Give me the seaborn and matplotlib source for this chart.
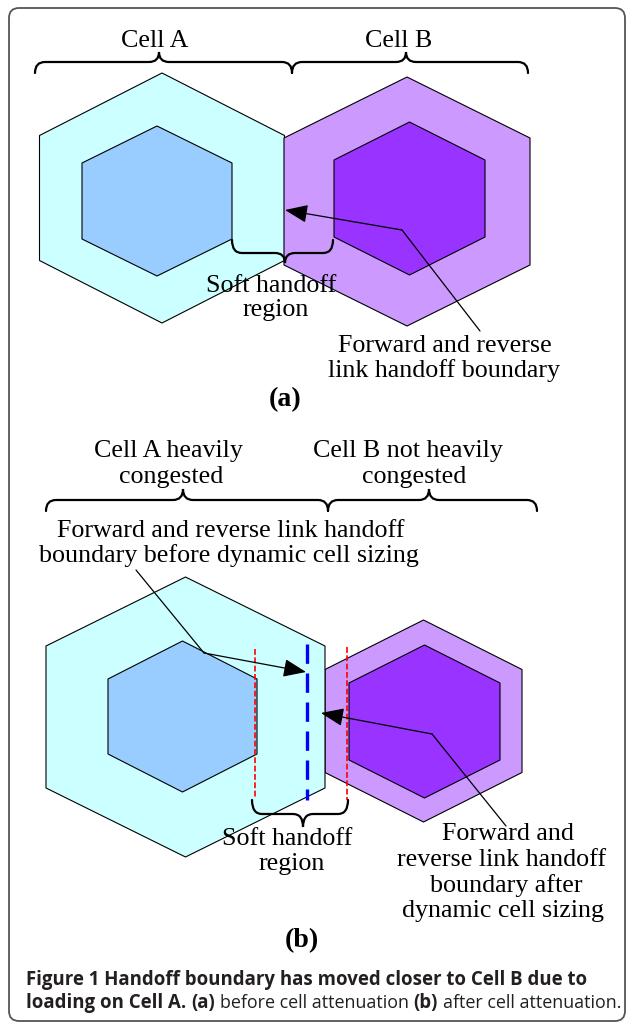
import matplotlib
matplotlib.use("Agg")
import matplotlib.pyplot as plt
import seaborn as sns
from matplotlib.path import Path
from matplotlib.patches import PathPatch, Polygon, FancyBboxPatch, FancyArrowPatch

# hexagons: (cx, cy, half width, half height, side offset, colour)
hex_names = ["outer_a_a", "inner_a_a", "outer_b_a", "inner_b_a",
             "outer_b_b", "inner_b_b", "outer_a_b", "inner_a_b"]
hex_cx = [162, 157, 407, 409.5, 423.5, 424.5, 185.5, 182.5]
hex_cy = [198, 201, 201.5, 198.5, 721, 721.5, 717, 716.5]
hex_hw = [122.5, 75, 123, 75.5, 98.5, 75.5, 139.5, 74.5]
hex_r = [125, 75, 124.5, 76.5, 101, 76.5, 140, 75.5]
hex_s = [62.5, 38, 63.5, 38.5, 51.5, 38.5, 71, 37.5]
hex_colors = ["#ccffff", "#99ccff", "#cc99ff", "#9933ff",
              "#cc99ff", "#9933ff", "#ccffff", "#99ccff"]

# braces: x start, x end, tip x, line y, end offset, tip offset
brace_x0 = [35, 292, 232, 46, 328, 252]
brace_x1 = [292, 528, 333, 328, 537, 348]
brace_xt = [159, 406, 285, 183, 429, 303]
brace_y = [62, 62, 253, 500, 500, 814]
brace_de = [11, 11, -13, 11, 11, -14]
brace_dt = [-10, -10, 10, -11, -11, 13]

# diagram labels: text, x centre, baseline y
labels = [
    ("Cell A", 155, 47), ("Cell B", 399, 47),
    ("Soft handoff", 271, 292), ("region", 276, 316),
    ("Forward and reverse", 445, 352), ("link handoff boundary", 444, 377),
    ("Cell A heavily", 168, 457), ("congested", 171, 483),
    ("Cell B not heavily", 408, 457), ("congested", 414, 483),
    ("Forward and reverse link handoff", 231, 537),
    ("boundary before dynamic cell sizing", 229, 562),
    ("Soft handoff", 287, 845), ("region", 292, 870),
    ("Forward and", 508, 840), ("reverse link handoff", 502, 866),
    ("boundary after", 506, 892), ("dynamic cell sizing", 503, 917),
]
panel_labels = [("(a)", 285, 406), ("(b)", 302, 947)]

# pointer lines (polyline ending in arrow head)
pointers = [
    [(480, 331), (402, 230), (285, 210)],
    [(136, 570), (204, 653), (306, 672)],
    [(506, 826), (432, 734), (321, 713)],
]

# handoff boundary lines in (b): x, y top, y bottom
red_x = [255, 347]
red_top = [649, 647]
red_bot = [797, 800]
blue_x = 307
blue_top, blue_bot = 644, 800

caption1 = [("Figure 1 Handoff boundary has moved closer to Cell B due to", "bold")]
caption2 = [("loading on Cell A.", "bold"), ("(a)", "bold"),
            ("before cell attenuation", "normal"), ("(b)", "bold"),
            ("after cell attenuation.", "normal")]

W, H = 627, 1023
PX = 72 / 100  # px -> pt

sns.set_theme(style="white")
plt.rcParams["font.family"] = ["Liberation Serif", "DejaVu Serif"]

fig = plt.figure(figsize=(W / 100, H / 100), dpi=100)
ax = fig.add_axes([0, 0, 1, 1])
ax.set_xlim(0, W)
ax.set_ylim(H, 0)
ax.axis("off")

# frame
ax.add_patch(FancyBboxPatch((9, 8), 616, 1013,
                            boxstyle="round,pad=0,rounding_size=10",
                            fc="white", ec="#555555", lw=1.3, zorder=0))


def hexagon(cx, cy, hw, r, s):
    return [(cx, cy - r), (cx + hw, cy - s), (cx + hw, cy + s),
            (cx, cy + r), (cx - hw, cy + s), (cx - hw, cy - s)]


for i in range(len(hex_names)):
    pts = hexagon(hex_cx[i], hex_cy[i], hex_hw[i], hex_r[i], hex_s[i])
    ax.add_patch(Polygon(pts, closed=True, fc=hex_colors[i], ec="black",
                         lw=0.8, zorder=1 + i * 0.01))


def brace(x0, x1, xt, y, de, dt, r=10):
    verts = [(x0, y + de), (x0, y), (x0 + r, y),
             (xt - r, y), (xt, y), (xt, y + dt),
             (xt, y), (xt + r, y),
             (x1 - r, y), (x1, y), (x1, y + de)]
    codes = [Path.MOVETO, Path.CURVE3, Path.CURVE3,
             Path.LINETO, Path.CURVE3, Path.CURVE3,
             Path.CURVE3, Path.CURVE3,
             Path.LINETO, Path.CURVE3, Path.CURVE3]
    return Path(verts, codes)


for i in range(len(brace_x0)):
    p = brace(brace_x0[i], brace_x1[i], brace_xt[i], brace_y[i],
              brace_de[i], brace_dt[i])
    ax.add_patch(PathPatch(p, fc="none", ec="black", lw=1.6, zorder=5,
                           capstyle="round"))

# boundary lines
for x, t, b in zip(red_x, red_top, red_bot):
    ax.plot([x, x], [t, b], color="#ff0000", lw=1.2, dashes=(3.5, 1.5), zorder=4)
ax.plot([blue_x, blue_x], [blue_top, blue_bot], color="#0000ff", lw=2.4,
        dashes=(5.8, 2.9), zorder=4)

# pointers
for pl in pointers:
    xs = [p[0] for p in pl[:-1]]
    ys = [p[1] for p in pl[:-1]]
    ax.plot(xs, ys, color="black", lw=0.9, zorder=6)
    ax.add_patch(FancyArrowPatch(pl[-2], pl[-1],
                                 arrowstyle="-|>,head_length=0.7,head_width=0.28",
                                 mutation_scale=20, color="black", lw=0.9,
                                 shrinkA=0, shrinkB=0, zorder=6))

for s, x, y in labels:
    ax.text(x, y, s, ha="center", va="baseline", fontsize=26 * PX,
            color="black", zorder=7)
for s, x, y in panel_labels:
    ax.text(x, y, s, ha="center", va="baseline", fontsize=28 * PX,
            fontweight="bold", color="black", zorder=7)

# caption
fig.canvas.draw()
renderer = fig.canvas.get_renderer()
cap_family = ["Open Sans", "DejaVu Sans"]


def width_of(s, size, weight):
    t = ax.text(0, 0, s, fontsize=size, fontweight=weight, family=cap_family)
    w = t.get_window_extent(renderer).width
    t.remove()
    return w


base = 11
cap_size = base * 558 / width_of(caption1[0][0], base, "bold")
space = width_of("a a", cap_size, "bold") - width_of("aa", cap_size, "bold")

# the light roman of the caption runs narrower than the bold, fit line 2
bold_w = sum(width_of(s, cap_size, w) for s, w in caption2 if w == "bold")
norm_w = sum(width_of(s, cap_size, w) for s, w in caption2 if w == "normal")
avail = 596 - bold_w - space * (len(caption2) - 1)
norm_size = cap_size * min(1.0, avail / norm_w)


def draw_runs(runs, x, y):
    for s, weight in runs:
        size = cap_size if weight == "bold" else norm_size
        t = ax.text(x, y, s, fontsize=size, fontweight=weight,
                    family=cap_family, color="#231f20", va="baseline")
        x += t.get_window_extent(renderer).width + space


draw_runs(caption1, 26, 985)
draw_runs(caption2, 26, 1008)

fig.savefig("out.png", dpi=100)
